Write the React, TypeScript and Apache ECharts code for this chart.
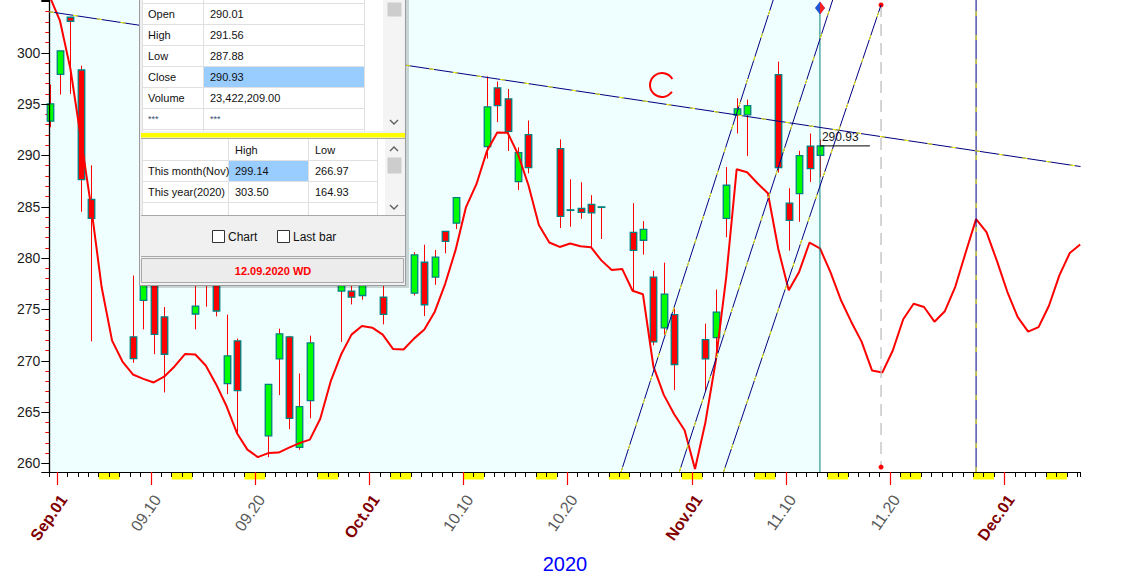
import React, { useEffect, useRef } from "react";
import * as echarts from "echarts";

// ---------- data ----------
const tradeDates = [
  "2020-08-31", "2020-09-01", "2020-09-02", "2020-09-03", "2020-09-04",
  "2020-09-08", "2020-09-09", "2020-09-10", "2020-09-11",
  "2020-09-14", "2020-09-15", "2020-09-16", "2020-09-17", "2020-09-18",
  "2020-09-21", "2020-09-22", "2020-09-23", "2020-09-24", "2020-09-25",
  "2020-09-28", "2020-09-29", "2020-09-30", "2020-10-01", "2020-10-02",
  "2020-10-05", "2020-10-06", "2020-10-07", "2020-10-08", "2020-10-09",
  "2020-10-12", "2020-10-13", "2020-10-14", "2020-10-15", "2020-10-16",
  "2020-10-19", "2020-10-20", "2020-10-21", "2020-10-22", "2020-10-23",
  "2020-10-26", "2020-10-27", "2020-10-28", "2020-10-29", "2020-10-30",
  "2020-11-02", "2020-11-03", "2020-11-04", "2020-11-05", "2020-11-06",
  "2020-11-09", "2020-11-10", "2020-11-11", "2020-11-12", "2020-11-13",
];
const openPrices = [
  293.34, 297.9, 303.46, 298.32, 285.71,
  272.33, 275.88, 279.0, 274.27,
  274.56, 280.5, 279.0, 267.77, 271.94,
  262.69, 270.19, 272.33, 261.56, 266.12,
  276.79, 276.79, 276.36, 278.5, 276.21,
  276.59, 279.6, 278.15, 282.61, 283.41,
  290.85, 296.58, 295.51, 287.46, 292.02,
  290.66, 284.65, 284.84, 285.23, 284.99,
  282.51, 281.74, 278.15, 273.2, 274.49,
  272.07, 272.26, 283.87, 293.92, 293.96,
  297.87, 285.35, 286.29, 290.91, 290.01,
];
const highPrices = [
  296.9, 300.19, 303.5, 298.74, 289.04,
  278.3, 281.0, 280.5, 275.24,
  277.33, 281.5, 280.0, 274.49, 272.16,
  267.7, 273.13, 272.43, 268.77, 272.45,
  278.5, 278.0, 279.0, 281.0, 278.5,
  280.57, 281.31, 280.79, 282.61, 285.9,
  297.7, 297.19, 296.48, 290.79, 293.4,
  291.56, 287.68, 287.39, 286.13, 284.99,
  285.35, 283.61, 278.76, 279.56, 275.07,
  273.62, 276.94, 288.87, 295.57, 295.44,
  299.14, 286.81, 290.46, 292.14, 291.56,
];
const lowPrices = [
  292.75, 295.93, 296.0, 284.51, 271.9,
  269.81, 273.06, 270.64, 266.92,
  273.06, 275.27, 274.33, 266.76, 262.78,
  260.62, 266.66, 263.34, 261.33, 264.4,
  271.84, 275.49, 275.95, 277.8, 273.55,
  276.36, 274.36, 277.4, 280.47, 282.83,
  289.69, 293.24, 290.43, 286.64, 288.26,
  282.93, 283.06, 283.83, 281.06, 281.86,
  276.69, 280.34, 271.51, 272.55, 267.15,
  266.97, 270.87, 282.03, 292.14, 289.94,
  288.33, 280.73, 283.54, 287.42, 287.88,
];
const closePrices = [
  295.02, 300.19, 303.07, 287.65, 283.87,
  270.22, 279.5, 272.58, 270.64,
  275.33, 278.3, 274.85, 270.48, 267.09,
  267.7, 272.62, 264.4, 265.54, 271.74,
  277.6, 276.21, 278.2, 280.0, 274.52,
  280.31, 275.46, 280.09, 281.64, 285.9,
  294.73, 294.86, 292.34, 290.27, 288.82,
  284.06, 284.7, 284.45, 284.41, 284.99,
  280.76, 282.8, 271.84, 276.5, 269.64,
  270.19, 274.75, 287.1, 294.54, 294.86,
  288.82, 283.67, 289.98, 288.72, 290.93,
];

// red cycle curve, one value per calendar day starting at curveStart
const curveStart = "2020-08-31";
const curveValues = [
  305.5, 303.1, 298.43, 291.71, 284.91, 277.16, 271.97, 269.93, 268.67, 268.24,
  267.89, 268.45, 269.45, 270.66, 270.61, 269.54, 267.7, 265.57, 262.95, 261.35,
  260.62, 261.01, 261.06, 261.54, 261.98, 262.32, 264.35, 267.99, 270.61, 272.55,
  273.38, 273.23, 272.55, 271.14, 271.1, 272.16, 273.04, 274.78, 277.5, 280.8,
  284.97, 287.2, 290.4, 292.24, 292.21, 290.11, 287.1, 283.22, 281.52, 281.09,
  281.43, 281.15, 281.06, 279.78, 278.85, 278.95, 276.82, 276.48, 269.45, 266.68,
  264.79, 263.24, 259.46, 264.02, 270.03, 278.18, 288.65, 288.36, 287.29, 286.32,
  280.89, 276.87, 278.66, 281.52, 280.96, 278.66, 275.95, 273.81, 271.87, 269.06,
  268.87, 271.0, 274.05, 275.56, 275.24, 273.81, 274.83, 277.21, 280.55, 283.8,
  282.54, 279.73, 276.72, 274.25, 272.84, 273.28, 275.36, 278.32, 280.5, 281.33,
];

// drawn trend lines: [dayOffset from 2020-08-31, price]
const resistanceLine = [[-0.03, 304.0], [99.03, 288.92]];
const channelLineA = [[54.89, 259.17], [69.51, 305.14]];
const channelLineB = [[60.49, 259.17], [75.22, 305.14]];
const channelLineC = [[64.74, 259.17], [79.87, 304.66]];
const cycleLine = [[89.0, 259.17], [89.0, 305.14]];
const targetLine = [[79.87, 304.66], [79.87, 259.65]];
const lastBarDay = 74;
const lastBarMarker = 304.36;
const lastClose = 290.93;
const lastCloseTagEnd = 78.8;

const tickLabelDates = [
  "2020-09-01", "2020-09-10", "2020-09-20", "2020-10-01", "2020-10-10",
  "2020-10-20", "2020-11-01", "2020-11-10", "2020-11-20", "2020-12-01",
];
const tickLabels = [
  "Sep.01", "09.10", "09.20", "Oct.01", "10.10",
  "10.20", "Nov.01", "11.10", "11.20", "Dec.01",
];
const weekendSaturdays = [
  "2020-09-05", "2020-09-12", "2020-09-19", "2020-09-26", "2020-10-03",
  "2020-10-10", "2020-10-17", "2020-10-24", "2020-10-31", "2020-11-07",
  "2020-11-14", "2020-11-21", "2020-11-28", "2020-12-05",
];
const yTickLabels = [260, 265, 270, 275, 280, 285, 290, 295, 300];

// data window contents
const quoteRows = [["Open", "290.01"], ["High", "291.56"], ["Low", "287.88"], ["Close", "290.93"], ["Volume", "23,422,209.00"]];
const rangeHeader = ["High", "Low"];
const rangeRows = [["This month(Nov)", "299.14", "266.97"], ["This year(2020)", "303.50", "164.93"]];
const panelDate = "12.09.2020 WD";

// ---------- helpers ----------
const DAY0 = Date.UTC(2020, 7, 31);
function dayIndex(s: string): number {
  const [y, m, d] = s.split("-").map(Number);
  return Math.round((Date.UTC(y, m - 1, d) - DAY0) / 86400000);
}

const Y_MIN = 259.17;
const Y_MAX = 305.14;
const X_MIN = -0.03;
const X_MAX = 99.03;
const T_MIN = 0.25;
const T_MAX = 99.31;
const FONT = "Liberation Sans";
const PZ = 100;

function buildPanel(): any[] {
  const els: any[] = [];
  const rect = (x: number, y: number, w: number, h: number, fill: string, stroke?: string) => {
    const style: any = { fill };
    if (stroke) { style.stroke = stroke; style.lineWidth = 1; }
    els.push({ type: "rect", z: PZ, silent: true, shape: { x, y, width: w, height: h }, style });
  };
  const line = (x1: number, y1: number, x2: number, y2: number, c: string) =>
    els.push({ type: "line", z: PZ, silent: true, shape: { x1, y1, x2, y2 }, style: { stroke: c, lineWidth: 1 } });
  const text = (x: number, y: number, t: string, o: any = {}) =>
    els.push({
      type: "text", z: PZ + 1, silent: true, x, y,
      style: {
        text: t, fill: o.fill || "#111111", fontSize: o.size || 11, fontFamily: FONT,
        fontWeight: o.weight || "normal", align: o.align || "left", verticalAlign: "middle",
      },
    });
  const chevron = (cx: number, cy: number, up: boolean) =>
    els.push({
      type: "polyline", z: PZ, silent: true,
      shape: { points: up ? [[cx - 4, cy + 2], [cx, cy - 2], [cx + 4, cy + 2]] : [[cx - 4, cy - 2], [cx, cy + 2], [cx + 4, cy - 2]] },
      style: { stroke: "#606060", lineWidth: 1.4, fill: "none" },
    });

  // shadow + frame
  els.push({ type: "rect", z: PZ - 1, silent: true, shape: { x: 142, y: -8, width: 267, height: 296 }, style: { fill: "rgba(0,0,0,0.16)" } });
  rect(139.5, -10, 266, 295.5, "#f0f0f0", "#9c9c9c");
  // top grid
  rect(142, -5, 241, 136, "#ffffff");
  rect(383, -5, 21, 136, "#f4f4f4");
  rect(387.5, 2.5, 14, 14, "#cdcdcd");
  rect(203.5, 66.5, 161, 21, "#99ccff");
  [3.5, 24.5, 45.5, 66.5, 87.5, 108.5, 129.5].forEach((y) => line(142.5, y, 364.5, y, "#e0e0e0"));
  [142.5, 203.5, 364.5].forEach((x) => line(x, -5, x, 131, "#e0e0e0"));
  quoteRows.forEach((r, i) => {
    text(148, 14 + i * 21, r[0]);
    text(210, 14 + i * 21, r[1]);
  });
  text(148, 119, "***", { fill: "#3a4a70", size: 9 });
  text(210, 119, "***", { fill: "#3a4a70", size: 9 });
  chevron(394, 122, false);
  // yellow splitter
  rect(141, 133, 264, 4.5, "#ffff00");
  line(141, 138.5, 405, 138.5, "#a8a8a8");
  // bottom grid
  rect(142, 139, 243, 76, "#ffffff");
  rect(385, 139, 19, 76, "#f4f4f4");
  rect(387.5, 157.5, 14, 16, "#cdcdcd");
  rect(228.5, 160.5, 80, 21, "#99ccff");
  [160.5, 181.5, 202.5].forEach((y) => line(142.5, y, 377.5, y, "#e0e0e0"));
  [142.5, 228.5, 308.5, 377.5].forEach((x) => line(x, 139, x, 215, "#e0e0e0"));
  text(235, 150, rangeHeader[0]);
  text(315, 150, rangeHeader[1]);
  rangeRows.forEach((r, i) => {
    text(148, 171 + i * 21, r[0]);
    text(235, 171 + i * 21, r[1]);
    text(315, 171 + i * 21, r[2]);
  });
  chevron(394, 149, true);
  chevron(394, 207, false);
  line(141, 215.5, 405, 215.5, "#a8a8a8");
  // checkboxes
  rect(212.5, 230.5, 12, 12, "#ffffff", "#333333");
  text(228, 236.5, "Chart", { size: 12 });
  rect(277.5, 230.5, 12, 12, "#ffffff", "#333333");
  text(293, 236.5, "Last bar", { size: 12 });
  line(141, 256.5, 405, 256.5, "#a8a8a8");
  rect(141.5, 258.5, 262, 24, "#ececec", "#a8a8a8");
  text(273, 271, panelDate, { fill: "#ff0000", weight: "bold", align: "center" });
  return els;
}

function lineSeries(name: string, data: number[][], color: string, extra: any = {}) {
  return {
    type: "line", name, data, showSymbol: false, symbol: "none", silent: true,
    lineStyle: { color, width: 1, ...(extra.lineStyle || {}) }, z: extra.z || 5,
    xAxisIndex: 0, yAxisIndex: 0,
  };
}

export default function App() {
  const ref = useRef<HTMLDivElement>(null);
  useEffect(() => {
    if (!ref.current) return;
    const chart = echarts.init(ref.current, null, { renderer: "svg" });

    const candleData = tradeDates.map((s, i) => [dayIndex(s), openPrices[i], closePrices[i], lowPrices[i], highPrices[i]]);
    const curveBase = dayIndex(curveStart);
    const curveData = curveValues.map((v, i) => [curveBase + i, v]);
    const tickDays = tickLabelDates.map(dayIndex);
    const weekendData = weekendSaturdays.map((s) => [dayIndex(s), Y_MIN]);

    const drawn = [resistanceLine, channelLineA, channelLineB, channelLineC, cycleLine];
    const drawnSeries: any[] = [];
    drawn.forEach((seg, i) => {
      drawnSeries.push(lineSeries("trend" + i, seg, "#000080", { z: 6 }));
      drawnSeries.push(lineSeries("trendDash" + i, seg, "#ffff00", { z: 7, lineStyle: { type: [5, 19], width: 1 } }));
    });

    const option: any = {
      animation: false,
      backgroundColor: "#ffffff",
      grid: { left: 49.3, right: 66.5, top: 0, bottom: 105, containLabel: false },
      xAxis: [
        {
          type: "value", min: X_MIN, max: X_MAX, position: "bottom", z: 6,
          axisLine: { show: true, onZero: false, lineStyle: { color: "#000000", width: 1 } },
          axisTick: { show: false }, axisLabel: { show: false }, splitLine: { show: false },
          name: "2020", nameLocation: "middle", nameGap: 82,
          nameTextStyle: { color: "#0000ff", fontSize: 20, fontFamily: FONT },
        },
        {
          type: "value", min: T_MIN, max: T_MAX, position: "bottom", z: 6,
          splitNumber: 99, minInterval: 1, maxInterval: 1,
          axisLine: { show: false, onZero: false },
          axisTick: { show: true, length: 5, lineStyle: { color: "#000000", width: 1 } },
          axisLabel: { show: false }, splitLine: { show: false },
        },
        {
          type: "value", min: T_MIN, max: T_MAX, position: "bottom", z: 7,
          axisLine: { show: false, onZero: false },
          axisTick: { show: true, customValues: tickDays, length: 13, lineStyle: { color: "#ff0000", width: 1.2 } },
          axisLabel: {
            show: true, customValues: tickDays, rotate: 55, margin: 20, verticalAlign: "top",
            formatter: (v: number) => {
              const idx = tickDays.indexOf(Math.round(v));
              if (idx < 0) return "";
              const s = tickLabels[idx];
              return /^[A-Z]/.test(s) ? "{m|" + s + "}" : "{d|" + s + "}";
            },
            rich: {
              m: { fontWeight: "bold", color: "#800000", fontSize: 16, fontFamily: FONT },
              d: { color: "#5a5a5a", fontSize: 16, fontFamily: FONT },
            },
          },
          splitLine: { show: false },
        },
      ],
      yAxis: [
        {
          type: "value", min: Y_MIN, max: Y_MAX, position: "left", z: 3,
          splitNumber: 9, minInterval: 5, maxInterval: 5,
          axisLine: { show: true, onZero: false, lineStyle: { color: "#000000", width: 1.3 } },
          axisTick: { show: true, length: 8, lineStyle: { color: "#000000" } },
          axisLabel: {
            margin: 9, color: "#1c1c1c", fontSize: 14, fontFamily: FONT,
            formatter: (v: number) => (yTickLabels.indexOf(Math.round(v * 100) / 100) >= 0 ? String(Math.round(v)) : ""),
          },
          splitLine: { show: false },
        },
        {
          type: "value", min: Y_MIN, max: Y_MAX, position: "left", z: 2,
          splitNumber: 46, minInterval: 1, maxInterval: 1,
          axisLine: { show: false, onZero: false },
          axisTick: { show: true, length: 4, lineStyle: { color: "#ff0000" } },
          axisLabel: { show: false }, splitLine: { show: false },
        },
      ],
      series: [
        {
          type: "line", name: "bg", data: [[lastBarDay, 280]], symbol: "none", showSymbol: false,
          lineStyle: { opacity: 0 }, z: 0, silent: true,
          markArea: { silent: true, itemStyle: { color: "#effefe" }, data: [[{ xAxis: X_MIN }, { xAxis: lastBarDay }]] },
        },
        {
          type: "custom", name: "weekends", xAxisIndex: 1, yAxisIndex: 0, z: 1, silent: true, clip: false,
          data: weekendData,
          encode: { x: 0, y: 1 },
          renderItem: (params: any, api: any) => {
            const t = api.value(0);
            const p1 = api.coord([t, Y_MIN]);
            const p2 = api.coord([t + 2, Y_MIN]);
            return { type: "rect", shape: { x: p1[0], y: p1[1] + 1, width: p2[0] - p1[0], height: 6.5 }, style: { fill: "#ffff00" } };
          },
        },
        {
          type: "custom", name: "candles", z: 3, silent: true,
          data: candleData,
          encode: { x: 0, y: [1, 2, 3, 4] },
          renderItem: (params: any, api: any) => {
            const x = api.value(0), o = api.value(1), c = api.value(2), l = api.value(3), h = api.value(4);
            const pO = api.coord([x, o]);
            const pC = api.coord([x, c]);
            const pL = api.coord([x, l]);
            const pH = api.coord([x, h]);
            const w = 6.5;
            const cx = Math.round(pO[0]) + 0.5;
            const top = Math.min(pO[1], pC[1]);
            const hgt = Math.max(Math.abs(pO[1] - pC[1]), 0.5);
            return {
              type: "group",
              children: [
                { type: "line", shape: { x1: cx, y1: pH[1], x2: cx, y2: pL[1] }, style: { stroke: "#ff0000", lineWidth: 1 } },
                { type: "rect", shape: { x: cx - w / 2, y: top, width: w, height: hgt }, style: { fill: c >= o ? "#00ff00" : "#ff0000", stroke: "#008080", lineWidth: 1.3 } },
              ],
            };
          },
        },
        {
          type: "line", name: "cycle", data: curveData, symbol: "none", showSymbol: false, silent: true,
          lineStyle: { color: "#ff0000", width: 2 }, z: 4,
        },
        ...drawnSeries,
        {
          type: "line", name: "lastBar", data: [[lastBarDay, lastBarMarker], [lastBarDay, Y_MIN]], symbol: "none", silent: true,
          lineStyle: { color: "#008080", width: 1 }, z: 4,
          markPoint: {
            silent: true,
            data: [
              { coord: [lastBarDay, lastBarMarker], symbol: "diamond", symbolSize: [10, 13], itemStyle: { color: "#1f55d8" }, label: { show: false } },
              { coord: [lastBarDay, lastBarMarker], symbol: "path://M0,0L1,1L0,2Z", symbolSize: [5, 13], symbolOffset: [2.5, 0], itemStyle: { color: "#ff2020" }, label: { show: false } },
            ],
          },
        },
        {
          type: "line", name: "target", data: targetLine, symbol: "circle", symbolSize: 5, showSymbol: true, silent: true,
          itemStyle: { color: "#ff0000" },
          lineStyle: { color: "#b9b9b9", width: 1.2, type: [12, 7] }, z: 4,
        },
        {
          type: "line", name: "closeTag", data: [[lastBarDay, lastClose], [lastCloseTagEnd, lastClose]], symbol: "none", silent: true,
          lineStyle: { color: "#000000", width: 1 }, z: 8,
          markPoint: {
            silent: true,
            data: [{
              coord: [lastBarDay, lastClose], symbol: "circle", symbolSize: 0,
              label: { show: true, formatter: String(lastClose.toFixed(2)), position: [2, -15], color: "#1a1a1a", fontSize: 12, fontFamily: FONT },
            }],
          },
        },
      ],
      graphic: [
        {
          type: "arc", z: 50, silent: true,
          shape: { cx: 662, cy: 85, r: 12, startAngle: 0.6, endAngle: 5.75, clockwise: true },
          style: { stroke: "#ff0000", lineWidth: 2, fill: "none" },
        },
        ...buildPanel(),
      ],
    };
    chart.setOption(option);
    return () => chart.dispose();
  }, []);
  return <div ref={ref} style={{ position: "fixed", left: 0, top: 0, width: 1147, height: 579 }} />;
}
